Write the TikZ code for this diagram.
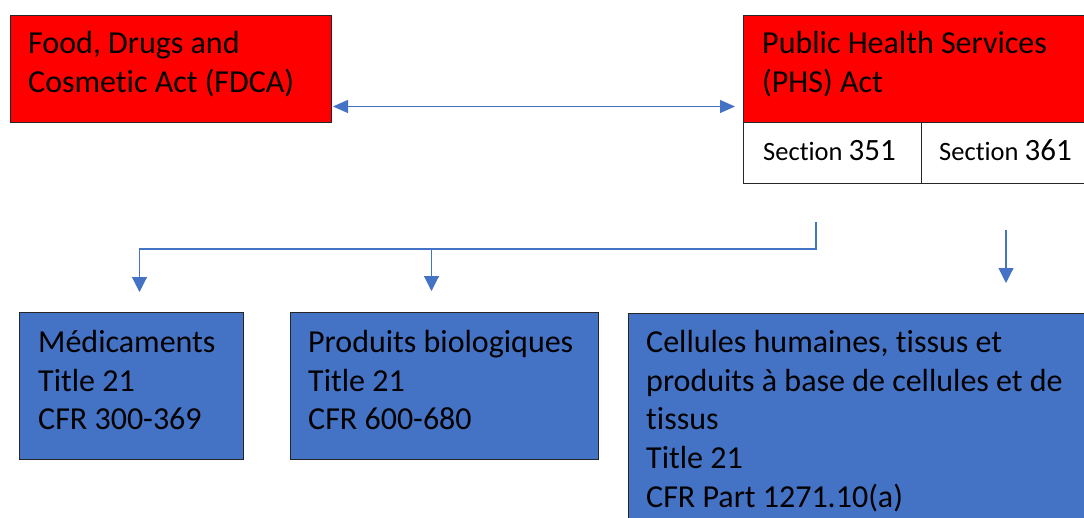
\documentclass[tikz,border=0pt]{standalone}
\usepackage{fontspec}
\setmainfont{Carlito}[Ligatures={NoCommon}]
\usetikzlibrary{arrows.meta,calc}
\definecolor{actred}{HTML}{FF0000}
\definecolor{offblue}{HTML}{4472C4}
\definecolor{boxline}{HTML}{262626}
\tikzset{
  boxshape/.style={draw=boxline, line width=1pt, anchor=north west, inner sep=0pt, rectangle},
  redbox/.style={boxshape, fill=actred},
  bluebox/.style={boxshape, fill=offblue},
  whitebox/.style={boxshape, fill=white},
  boxtext/.style={anchor=north west, inner sep=0pt, align=left, text=black,
    font=\fontsize{32}{38.8}\selectfont},
  sectext/.style={anchor=base west, inner sep=0pt, text=black},
  conn/.style={draw=offblue, line width=1.1pt},
  tipped/.style={conn, -{Triangle[width=15pt,length=15pt]}},
  dtipped/.style={conn, {Triangle[width=13pt,length=15pt]}-{Triangle[width=13pt,length=15pt]}}
}
\begin{document}
\begin{tikzpicture}[x=1pt,y=-1pt]
\useasboundingbox (0,0) rectangle (1084,517);
\clip (0,0) rectangle (1084,517);
\fill[white] (0,0) rectangle (1084,517);

% boxes
\node[redbox, minimum width=321pt, minimum height=107pt] (fdca) at (10,15) {};
\node[redbox, minimum width=357pt, minimum height=107pt] (phs) at (743,15) {};
\node[whitebox, minimum width=178pt, minimum height=61pt] (sec351) at (743,122) {};
\node[whitebox, minimum width=179pt, minimum height=61pt] (sec361) at (921,122) {};
\node[bluebox, minimum width=224pt, minimum height=147pt] (med) at (19,312) {};
\node[bluebox, minimum width=308pt, minimum height=147pt] (bio) at (290,312) {};
\node[bluebox, minimum width=472pt, minimum height=220pt] (cell) at (628,313) {};

% texts
\node[boxtext] (fdcatxt) at (28,26.2) {\strut Food, Drugs and\\Cosmetic Act (FDCA)};
\node[boxtext] (phstxt) at (762,26.2) {\strut Public Health Services\\(PHS) Act};
\node[sectext] (t351) at (763,160) {\fontsize{26.5}{30}\selectfont Section \fontsize{31}{36}\selectfont 351};
\node[sectext] (t361) at (939,160) {\fontsize{26.5}{30}\selectfont Section \fontsize{31}{36}\selectfont 361};
\node[boxtext] (medtxt) at (38,325) {\strut M\'edicaments\\Title 21\\CFR 300-369};
\node[boxtext] (biotxt) at (308,325) {\strut Produits biologiques\\Title 21\\CFR 600-680};
\node[boxtext] (celltxt) at (646,325) {\strut Cellules humaines, tissus et\\produits \`a base de cellules et de\\tissus\\Title 21\\CFR Part 1271.10(a)};

% connectors
\draw[dtipped] ([xshift=1pt,yshift=16.5pt]fdca.south east) -- ([xshift=-8pt,yshift=16.5pt]phs.south west);

\coordinate (s351) at (816,222);
\coordinate (j351) at (816,249);
\draw[tipped] (s351) -- (j351) -| ([xshift=8pt,yshift=20pt]med.north);
\draw[tipped] (j351 -| bio.north) ++(-13,0) coordinate (jbio) -- ([xshift=-13pt,yshift=21pt]bio.north);

\coordinate (s361) at (1006,230);
\coordinate (e361) at (1006,283);
\draw[tipped] (s361) -- (e361);
\end{tikzpicture}
\end{document}
